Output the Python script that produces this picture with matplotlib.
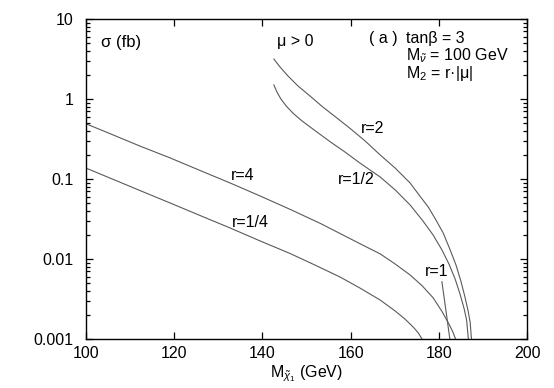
import numpy as np
import matplotlib
matplotlib.use("Agg")
import matplotlib.pyplot as plt
from matplotlib.ticker import FixedLocator, LogLocator, NullFormatter

plt.rcParams['font.family'] = ['Liberation Sans', 'DejaVu Sans']
plt.rcParams['mathtext.fontset'] = 'custom'
plt.rcParams['mathtext.rm'] = 'Liberation Sans'
plt.rcParams['mathtext.it'] = 'Liberation Sans:italic'

# cross sections (mass in GeV, sigma in fb)
m_r4 = [100.0, 105.4, 112.2, 119.1, 125.9, 132.7, 139.5, 146.3, 153.1, 158.7, 163.3, 166.7,
        170.1, 173.5, 176.2, 178.7, 180.7, 182.3, 183.2, 183.8]
s_r4 = [0.49, 0.370, 0.2585, 0.1832, 0.1276, 0.0891, 0.0613, 0.0417, 0.0279, 0.0194, 0.0144, 0.0116,
        0.00866, 0.00631, 0.00464, 0.00328, 0.00222, 0.00154, 0.00122, 0.001]

m_r14 = [100.0, 105.4, 112.2, 119.1, 125.9, 132.7, 139.5, 146.3, 151.9, 157.6, 162.1, 166.7,
         170.1, 172.3, 174.2, 175.3, 176.2]
s_r14 = [0.137, 0.103, 0.0719, 0.0501, 0.0349, 0.0244, 0.0168, 0.0117, 0.00841, 0.00596, 0.00434, 0.00307,
         0.00224, 0.00178, 0.00141, 0.0012, 0.001]

m_r2 = [142.6, 144.0, 145.8, 148.1, 150.8, 153.7, 156.9, 159.9, 163.3, 166.7, 170.1, 173.5,
        175.7, 177.6, 179.1, 181.0, 182.5, 183.9, 185.0, 185.9, 186.6, 187.1, 187.4]
s_r2 = [3.16, 2.51, 1.94, 1.45, 1.09, 0.794, 0.579, 0.428, 0.2985, 0.20, 0.137, 0.0891,
        0.0613, 0.0447, 0.0325, 0.0211, 0.0133, 0.0084, 0.0053, 0.0034, 0.0023, 0.00163, 0.001]

m_r12 = [142.6, 143.3, 144.2, 145.4, 146.9, 149.0, 151.9, 155.3, 158.7, 162.1, 166.7, 170.1,
         173.5, 176.4, 178.7, 180.7, 182.3, 183.7, 184.8, 185.7, 186.3, 186.7]
s_r12 = [1.50, 1.22, 1.0, 0.818, 0.668, 0.531, 0.404, 0.294, 0.218, 0.1585, 0.106, 0.0731,
         0.0473, 0.0299, 0.020, 0.013, 0.00866, 0.00562, 0.00365, 0.00244, 0.00173, 0.001]

m_r1 = [180.7, 181.6, 182.5]
s_r1 = [0.0052, 0.0023, 0.001]

xticks = [100, 120, 140, 160, 180, 200]
yticks = [0.001, 0.01, 0.1, 1, 10]
ytick_labels = ['0.001', '0.01', '0.1', '1', '10']

fig = plt.figure(figsize=(5.54, 3.88), dpi=100)
ax = fig.add_axes([0.1552, 0.1263, 0.7961, 0.8247])

line_kw = dict(color='#5a5a5a', lw=0.8)
for m, s in [(m_r4, s_r4), (m_r14, s_r14), (m_r2, s_r2), (m_r12, s_r12), (m_r1, s_r1)]:
    ax.plot(m, s, **line_kw)

ax.set_yscale('log')
ax.set_xlim(100, 200)
ax.set_ylim(0.001, 10)
ax.xaxis.set_major_locator(FixedLocator(xticks))
ax.set_xticklabels([str(t) for t in xticks])
ax.yaxis.set_major_locator(FixedLocator(yticks))
ax.set_yticklabels(ytick_labels)
ax.yaxis.set_minor_locator(LogLocator(base=10, subs=np.arange(2, 10)))
ax.yaxis.set_minor_formatter(NullFormatter())

ax.tick_params(which='both', direction='in', top=True, right=True, labelsize=11.5, width=0.9)
ax.tick_params(which='major', length=5)
ax.tick_params(which='minor', length=3)
ax.tick_params(axis='x', pad=5)
ax.tick_params(axis='y', pad=9)
for sp in ax.spines.values():
    sp.set_linewidth(1.0)

fs = 11.5
ax.text(0.034, 0.912, 'σ (fb)', transform=ax.transAxes, fontsize=12, va='baseline', ha='left')
ax.text(0.433, 0.915, 'μ > 0', transform=ax.transAxes, fontsize=fs, va='baseline', ha='left')
ax.text(0.642, 0.925, '( a )', transform=ax.transAxes, fontsize=fs, va='baseline', ha='left')
ax.text(0.726, 0.925, 'tanβ = 3', transform=ax.transAxes, fontsize=fs, va='baseline', ha='left')
ax.text(0.726, 0.872, r'M$_{\tilde{\nu}}$ = 100 GeV', transform=ax.transAxes, fontsize=fs, va='baseline', ha='left')
ax.text(0.726, 0.815, 'M$_2$ = r·|μ|', transform=ax.transAxes, fontsize=fs, va='baseline', ha='left')

ax.text(164.9, 0.434, 'r=2', fontsize=fs, ha='center', va='center')
ax.text(161.2, 0.100, 'r=1/2', fontsize=fs, ha='center', va='center')
ax.text(135.6, 0.112, 'r=4', fontsize=fs, ha='center', va='center')
ax.text(137.2, 0.029, 'r=1/4', fontsize=fs, ha='center', va='center')
ax.text(179.6, 0.0069, 'r=1', fontsize=fs, ha='center', va='center')

ax.set_xlabel(r'M$_{\tilde{\chi}_1}$ (GeV)', fontsize=fs, labelpad=2)

fig.savefig('out.png', dpi=100)
